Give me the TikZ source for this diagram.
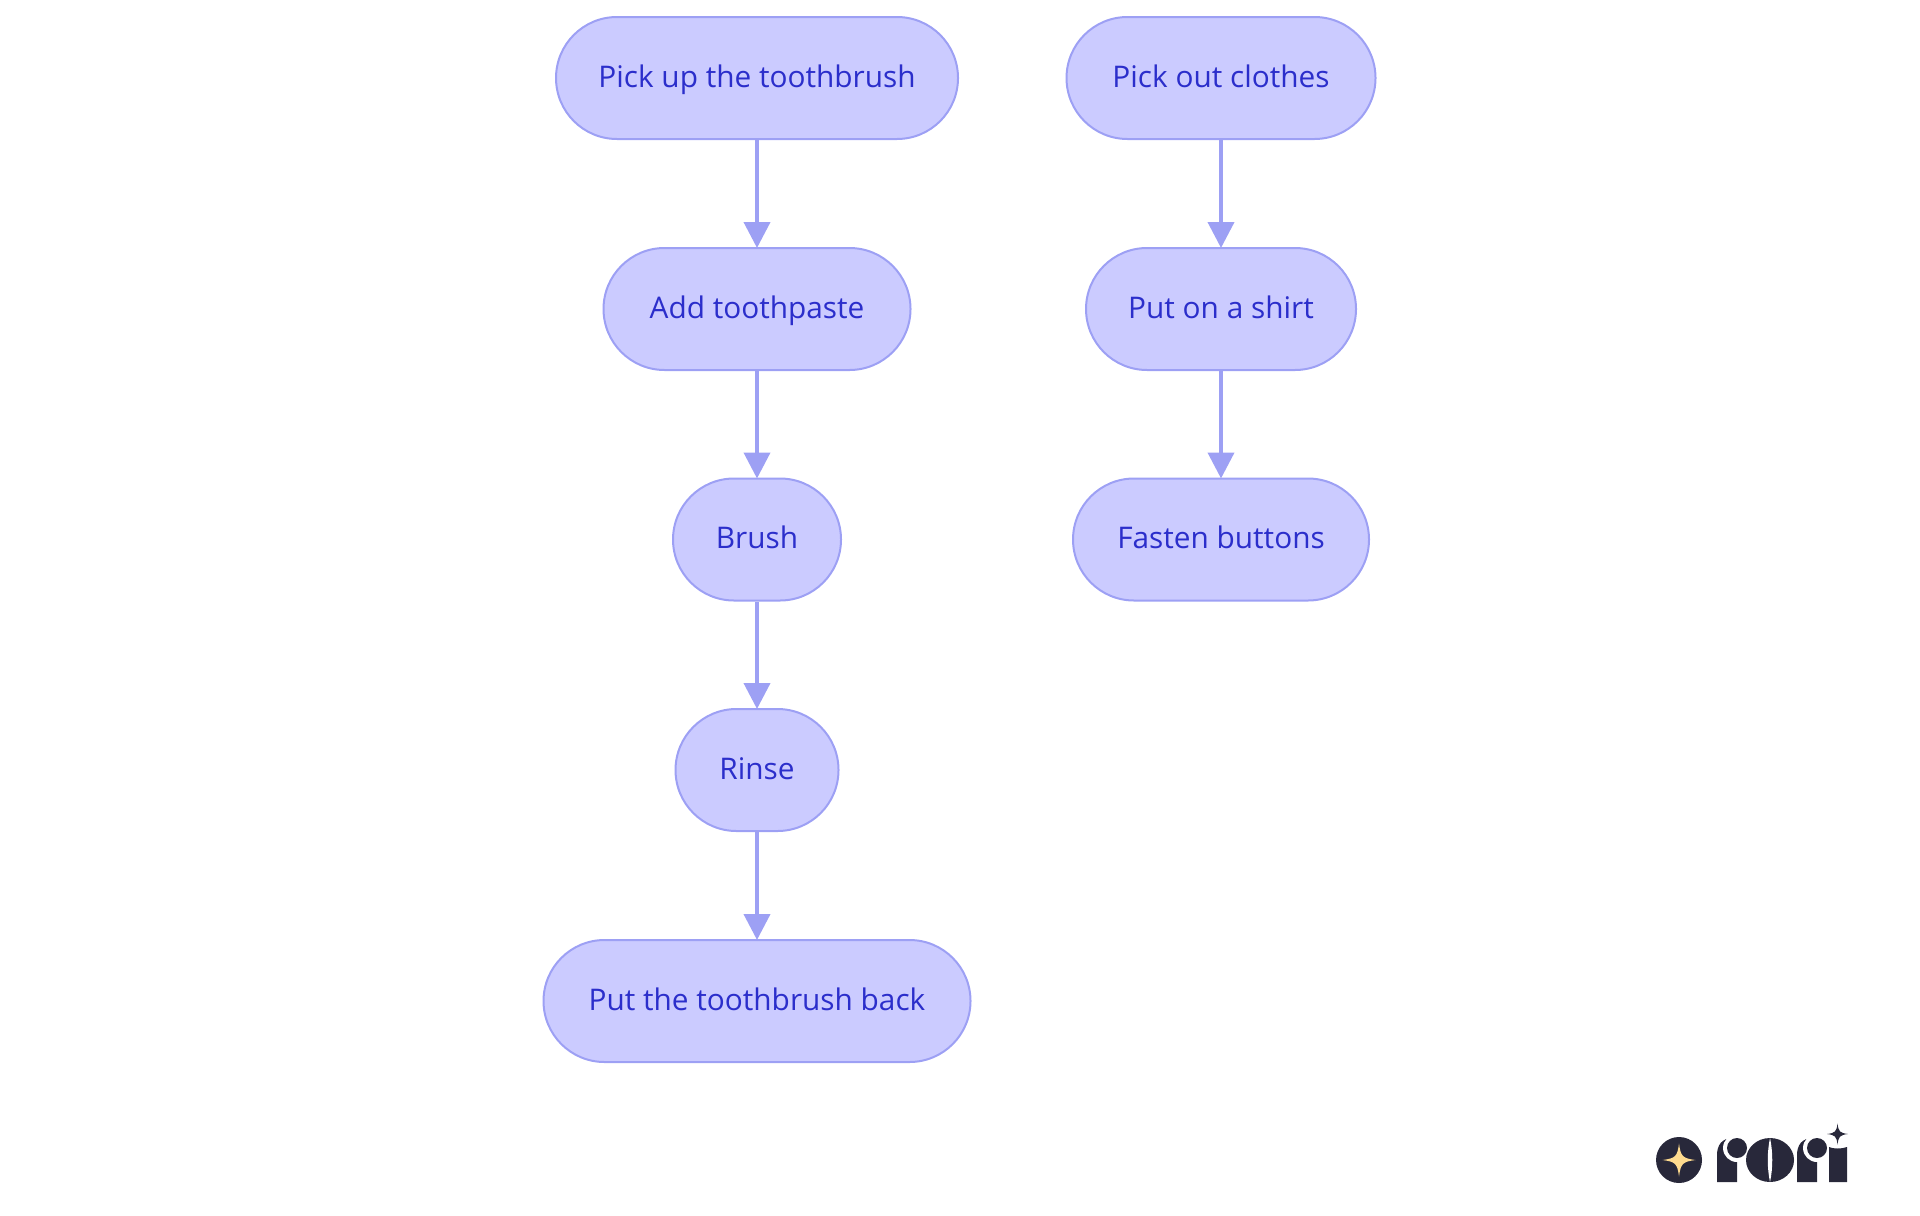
\documentclass[tikz,border=0pt]{standalone}
\usepackage{fontspec}
\setmainfont{Open Sans}
\usetikzlibrary{arrows.meta}
\definecolor{stepfill}{HTML}{CBCBFF}
\definecolor{stepline}{HTML}{9DA0F4}
\definecolor{steptext}{HTML}{2B2ECB}
\definecolor{logodark}{HTML}{28283A}
\definecolor{logostar}{HTML}{FFDB8E}
\tikzset{
  stepnode/.style={draw=stepline, fill=stepfill, text=steptext, line width=1pt,
    rounded corners=30.5pt, minimum height=61pt, inner sep=0pt, text height=11pt, text depth=2pt,
    font=\fontsize{14.9}{18}\selectfont},
  steparrow/.style={draw=stepline, line width=2pt, shorten >=-0.5pt, -{Triangle[length=13pt,width=13pt,color=stepline]}},
  sparkle/.pic={
    \fill (-1,0) .. controls (-0.22,-0.1) and (-0.1,-0.22) .. (0,-1)
      .. controls (0.1,-0.22) and (0.22,-0.1) .. (1,0)
      .. controls (0.22,0.1) and (0.1,0.22) .. (0,1)
      .. controls (-0.1,0.22) and (-0.22,0.1) .. (-1,0) -- cycle;
  }
}
\begin{document}
\begin{tikzpicture}[x=0.5pt, y=-0.5pt]
  \useasboundingbox (0,0) rectangle (1920,1215);
  % left column
  \node[stepnode, minimum width=201pt] (pickup) at (757,78) {Pick up the toothbrush};
  \node[stepnode, minimum width=153.5pt] (paste) at (757,309) {Add toothpaste};
  \node[stepnode, minimum width=84pt] (brush) at (757,539.5) {Brush};
  \node[stepnode, minimum width=81.5pt] (rinse) at (757,770) {Rinse};
  \node[stepnode, minimum width=213.5pt] (back) at (757,1001) {Put the toothbrush back};
  % right column
  \node[stepnode, minimum width=154.5pt] (clothes) at (1221,78) {Pick out clothes};
  \node[stepnode, minimum width=135pt] (shirt) at (1221,309) {Put on a shirt};
  \node[stepnode, minimum width=148pt] (buttons) at (1221,539.5) {Fasten buttons};
  \foreach \from/\to in {pickup/paste,paste/brush,brush/rinse,rinse/back,clothes/shirt,shirt/buttons}{
    \draw[steparrow] (\from) -- (\to);
  }
  % logo
  \fill[logodark] (1679,1160) circle [radius=23];
  \pic[logostar, scale=16.5] at (1679,1160) {sparkle};
  \foreach \rx in {1717,1797}{
    \fill[logodark] (\rx,1182) -- (\rx,1155) .. controls (\rx,1145) and (\rx+5,1138) .. (\rx+16,1138)
      -- (\rx+20,1160) -- (\rx+20,1182) -- cycle;
    \fill[white] (\rx+20,1148) circle [radius=14];
    \fill[logodark] (\rx+20,1148) circle [radius=10];
  }
  \fill[logodark] (1770,1160) ellipse [x radius=24, y radius=22];
  \fill[white] (1770,1138) .. controls (1767,1152) and (1767,1168) .. (1770,1182)
    .. controls (1773,1168) and (1773,1152) .. (1770,1138) -- cycle;
  \fill[logodark] (1829,1182) -- (1829,1147) .. controls (1833,1149) and (1842,1149) .. (1847,1147) -- (1847,1182) -- cycle;
  \pic[logodark, scale=10.5] at (1837.5,1134) {sparkle};
\end{tikzpicture}
\end{document}
